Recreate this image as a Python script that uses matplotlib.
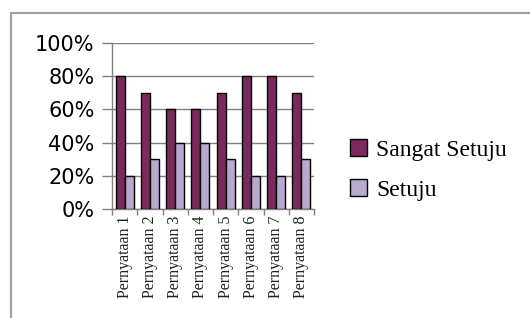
import matplotlib
matplotlib.use("Agg")
import matplotlib.pyplot as plt
import numpy as np
from matplotlib.lines import Line2D
from matplotlib.ticker import FixedLocator, PercentFormatter

categories = ["Pernyataan 1", "Pernyataan 2", "Pernyataan 3", "Pernyataan 4",
              "Pernyataan 5", "Pernyataan 6", "Pernyataan 7", "Pernyataan 8"]
sangat_setuju = [0.8, 0.7, 0.6, 0.6, 0.7, 0.8, 0.8, 0.7]
setuju = [0.2, 0.3, 0.4, 0.4, 0.3, 0.2, 0.2, 0.3]
series_names = ["Sangat Setuju", "Setuju"]
yticks = [0, 0.2, 0.4, 0.6, 0.8, 1.0]

W, H = 530, 318
fig = plt.figure(figsize=(W / 100, H / 100), dpi=100)
fig.patch.set_facecolor("white")

ax = fig.add_axes([112 / W, 1 - 209 / H, 202 / W, 166 / H])
x = np.arange(len(categories))
bw = 0.36
c1, c2 = "#7b2a5e", "#b8a9cf"
b1 = ax.bar(x - bw / 2, sangat_setuju, bw, color=c1, edgecolor="black", linewidth=1.0,
            label=series_names[0], zorder=3)
b2 = ax.bar(x + bw / 2, setuju, bw, color=c2, edgecolor="black", linewidth=1.0,
            label=series_names[1], zorder=3)

ax.set_xlim(-0.5, len(categories) - 0.5)
ax.set_ylim(0, 1.0)
ax.set_yticks(yticks)
ax.yaxis.set_major_formatter(PercentFormatter(1.0, decimals=0))
ax.grid(axis="y", color="#808080", linewidth=1.0, zorder=0)

for s in ["top", "right"]:
    ax.spines[s].set_visible(False)
ax.spines["left"].set_color("#808080")
ax.spines["bottom"].set_color("#808080")
ax.spines["left"].set_linewidth(1.0)
ax.spines["bottom"].set_linewidth(1.0)

ax.tick_params(axis="y", direction="out", length=7.5, color="#808080", width=1.0,
               labelsize=15, pad=5)
for t in ax.get_yticklabels():
    t.set_fontfamily("DejaVu Sans")

# category labels between boundary ticks
ax.set_xticks(x)
ax.set_xticklabels(categories, rotation=90, fontsize=11.5, family="Liberation Serif",
                   color="#202020")
ax.tick_params(axis="x", which="major", length=0, pad=5)
ax.xaxis.set_minor_locator(FixedLocator(np.arange(-0.5, len(categories), 1.0)))
ax.tick_params(axis="x", which="minor", direction="out", length=4, color="#808080", width=1.0)

fig.legend(handles=[b1, b2], labels=series_names, loc="center left",
           bbox_to_anchor=(350 / W, 1 - 170 / H), frameon=False,
           prop={"family": "Liberation Serif", "size": 17},
           handlelength=0.72, handleheight=0.72, handletextpad=0.4, labelspacing=0.75,
           borderaxespad=0, borderpad=0)

# outer chart border (top and left edges visible)
fig.add_artist(Line2D([10.5 / W, 1.0], [1 - 12.5 / H, 1 - 12.5 / H],
                      transform=fig.transFigure, color="#a0a0a0", linewidth=1.5))
fig.add_artist(Line2D([10.5 / W, 10.5 / W], [0, 1 - 12.5 / H],
                      transform=fig.transFigure, color="#a0a0a0", linewidth=1.5))

fig.savefig("out.png", dpi=100)
